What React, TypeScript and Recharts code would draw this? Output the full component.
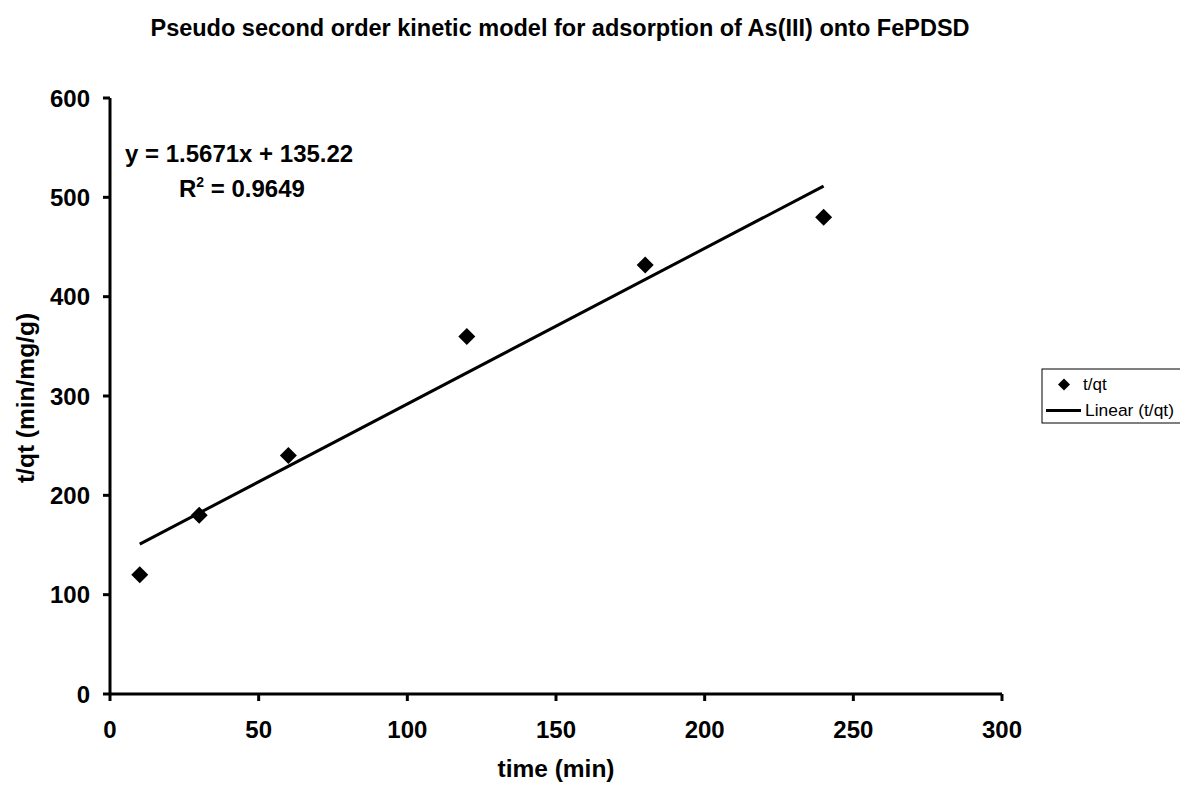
import React from "react";
import { ScatterChart, Scatter, XAxis, YAxis } from "recharts";

const timeMin = [10, 30, 60, 120, 180, 240];
const tOverQt = [120, 180, 240, 360, 432, 480];
const xTicks = [0, 50, 100, 150, 200, 250, 300];
const yTicks = [0, 100, 200, 300, 400, 500, 600];
const slope = 1.5671;
const intercept = 135.22;

const points = timeMin.map((t, i) => ({ x: t, y: tOverQt[i] }));
const trend = [timeMin[0], timeMin[timeMin.length - 1]].map((t) => ({ x: t, y: slope * t + intercept }));

const FONT = "Arial, 'Liberation Sans', sans-serif";

const Diamond = (props: any) => {
  const { cx, cy } = props;
  const r = 8.5;
  return <path d={`M${cx},${cy - r}L${cx + r},${cy}L${cx},${cy + r}L${cx - r},${cy}Z`} fill="#000" />;
};

export default function App() {
  return (
    <div style={{ position: "absolute", left: 0, top: 0, width: 1180, height: 785, background: "#fff", fontFamily: FONT, overflow: "hidden" }}>
      <ScatterChart width={1180} height={785} margin={{ top: 98, right: 178, bottom: 31, left: 50 }}>
        <XAxis
          type="number"
          dataKey="x"
          domain={[0, 300]}
          ticks={xTicks}
          height={60}
          axisLine={{ stroke: "#000", strokeWidth: 3 }}
          tickLine={{ stroke: "#000", strokeWidth: 3 }}
          tickSize={7}
          tick={{ fill: "#000", fontSize: 24, fontWeight: "bold", fontFamily: FONT }}
          tickMargin={20}
        />
        <YAxis
          type="number"
          dataKey="y"
          domain={[0, 600]}
          ticks={yTicks}
          width={60}
          axisLine={{ stroke: "#000", strokeWidth: 3 }}
          tickLine={{ stroke: "#000", strokeWidth: 3 }}
          tickSize={7}
          tick={{ fill: "#000", fontSize: 24, fontWeight: "bold", fontFamily: FONT }}
          tickMargin={13}
        />
        <Scatter data={trend} line={{ stroke: "#000", strokeWidth: 3 }} shape={() => null} isAnimationActive={false} />
        <Scatter data={points} shape={Diamond} isAnimationActive={false} />
      </ScatterChart>
      <svg width={1180} height={785} style={{ position: "absolute", left: 0, top: 0, pointerEvents: "none" }}>
        <text x={560} y={36} textAnchor="middle" fontSize={23.5} fontWeight="bold" fontFamily={FONT} fill="#000">
          Pseudo second order kinetic model for adsorption of As(III) onto FePDSD
        </text>
        <text x={556} y={777} textAnchor="middle" fontSize={24.5} fontWeight="bold" fontFamily={FONT} fill="#000">
          time (min)
        </text>
        <text x={34} y={398} textAnchor="middle" fontSize={24.5} fontWeight="bold" fontFamily={FONT} fill="#000" transform="rotate(-90 34 398)">
          t/qt (min/mg/g)
        </text>
        <text x={125} y={162} fontSize={24} fontWeight="bold" fontFamily={FONT} fill="#000">
          y = 1.5671x + 135.22
        </text>
        <text x={179} y={197} fontSize={24} fontWeight="bold" fontFamily={FONT} fill="#000">
          R<tspan dy={-10} fontSize={14}>2</tspan><tspan dy={10}> = 0.9649</tspan>
        </text>
        <rect x={1042} y={369} width={145} height={54} fill="#fff" stroke="#000" strokeWidth={1} />
        <path d="M1064,378.5L1070,384.5L1064,390.5L1058,384.5Z" fill="#000" />
        <text x={1083} y={390} fontSize={17} fontFamily={FONT} fill="#000">t/qt</text>
        <line x1={1046} y1={410.5} x2={1081} y2={410.5} stroke="#000" strokeWidth={3} />
        <text x={1085} y={416} fontSize={17.4} fontFamily={FONT} fill="#000">Linear (t/qt)</text>
      </svg>
    </div>
  );
}
